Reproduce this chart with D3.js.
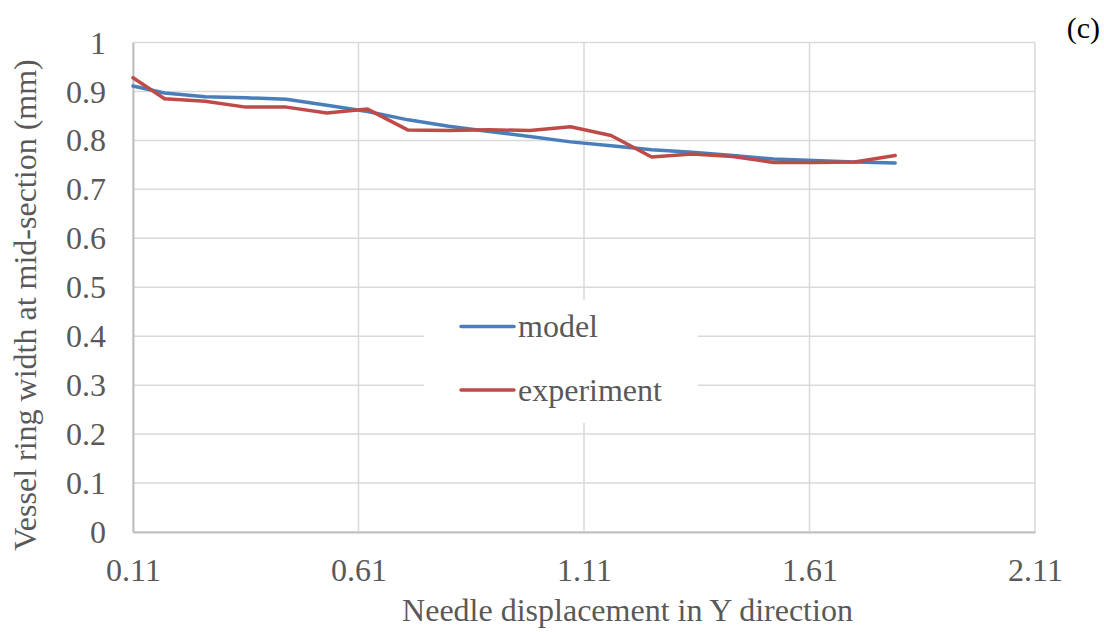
<!DOCTYPE html>
<html>
<head>
<meta charset="utf-8">
<script src="https://cdn.jsdelivr.net/npm/d3@7"></script>
<style>
  body { margin: 0; background: #fff; }
  svg { display: block; font-family: "Liberation Serif", "Times New Roman", serif; }
</style>
</head>
<body>
<svg width="1104" height="632"></svg>
<script>
// données
let deplacement = [0.11, 0.18, 0.27, 0.36, 0.45, 0.54, 0.63, 0.72, 0.81, 0.90,
                   0.99, 1.08, 1.17, 1.26, 1.35, 1.44, 1.53, 1.62, 1.71, 1.80];
let modele = [0.911, 0.897, 0.889, 0.887, 0.884, 0.872, 0.859, 0.842, 0.829, 0.818,
              0.808, 0.797, 0.789, 0.781, 0.776, 0.769, 0.762, 0.759, 0.756, 0.754];
let experience = [0.928, 0.885, 0.880, 0.868, 0.868, 0.856, 0.864, 0.821, 0.820, 0.822,
                  0.820, 0.828, 0.810, 0.766, 0.772, 0.767, 0.755, 0.755, 0.756, 0.769];
let xTicks = [0.11, 0.61, 1.11, 1.61, 2.11];
let yTicks = [0, 0.1, 0.2, 0.3, 0.4, 0.5, 0.6, 0.7, 0.8, 0.9, 1];
let series = [
    {name: "model", values: modele, color: "#4a7ebb"},
    {name: "experiment", values: experience, color: "#be4b48"}
];

let svg = d3.select("svg");

let gauche = 133, droite = 1035, haut = 42.5, bas = 532;
let taille = "32px";

let x = d3.scaleLinear().domain([0.11, 2.11]).range([gauche, droite]);
let y = d3.scaleLinear().domain([0, 1]).range([bas, haut]);

// grille
svg.append("g")
    .selectAll("line")
    .data(yTicks)
    .join("line")
    .attr("x1", gauche).attr("x2", droite)
    .attr("y1", d => y(d)).attr("y2", d => y(d))
    .attr("stroke", "#d9d9d9")
    .attr("stroke-width", 1.5);

svg.append("g")
    .selectAll("line")
    .data(xTicks)
    .join("line")
    .attr("x1", d => x(d)).attr("x2", d => x(d))
    .attr("y1", haut).attr("y2", bas)
    .attr("stroke", "#d9d9d9")
    .attr("stroke-width", 1.5);

// axes (bas et gauche)
let axeX = svg.append("g")
    .attr("transform", `translate(0,${bas})`)
    .call(d3.axisBottom(x).tickValues(xTicks).tickSize(0).tickPadding(26).tickFormat(d3.format(".2f")));
let axeY = svg.append("g")
    .attr("transform", `translate(${gauche},0)`)
    .call(d3.axisLeft(y).tickValues(yTicks).tickSize(0).tickPadding(27).tickFormat(d => d3.format("")(+d.toFixed(1))));

[axeX, axeY].forEach(a => {
    a.select(".domain").attr("stroke", "#bfbfbf").attr("stroke-width", 2);
    a.selectAll("text")
        .attr("fill", "#595959")
        .style("font-family", "Liberation Serif, Times New Roman, serif")
        .style("font-size", taille);
});
axeY.selectAll("text").attr("dy", "0.33em");

// courbes
let ligne = d3.line()
    .x((d, i) => x(deplacement[i]))
    .y(d => y(d));

svg.append("g")
    .selectAll("path")
    .data(series)
    .join("path")
    .attr("d", d => ligne(d.values))
    .attr("fill", "none")
    .attr("stroke", d => d.color)
    .attr("stroke-width", 3.5)
    .attr("stroke-linejoin", "round")
    .attr("stroke-linecap", "round");

// légende
let legende = svg.append("g");
legende.append("rect")
    .attr("x", 424).attr("y", 300)
    .attr("width", 274).attr("height", 123)
    .attr("fill", "#fff");

let entree = legende.selectAll("g.entree")
    .data(series)
    .join("g")
    .attr("class", "entree")
    .attr("transform", (d, i) => `translate(0,${326.5 + i * 63.5})`);
entree.append("line")
    .attr("x1", 461).attr("x2", 514)
    .attr("stroke", d => d.color)
    .attr("stroke-width", 3.5)
    .attr("stroke-linecap", "round");
entree.append("text")
    .attr("x", 518).attr("dy", "0.33em")
    .attr("fill", "#595959")
    .style("font-size", taille)
    .text(d => d.name);

// titres des axes
svg.append("text")
    .attr("x", 627.5).attr("y", 621)
    .attr("text-anchor", "middle")
    .attr("fill", "#595959")
    .style("font-size", taille)
    .text("Needle displacement in Y direction");

svg.append("text")
    .attr("transform", "translate(36,305) rotate(-90)")
    .attr("text-anchor", "middle")
    .attr("fill", "#595959")
    .style("font-size", taille)
    .text("Vessel ring width at mid-section (mm)");

svg.append("text")
    .attr("x", 1100).attr("y", 38)
    .attr("text-anchor", "end")
    .attr("fill", "#000")
    .style("font-size", "30px")
    .text("(c)");
</script>
</body>
</html>
